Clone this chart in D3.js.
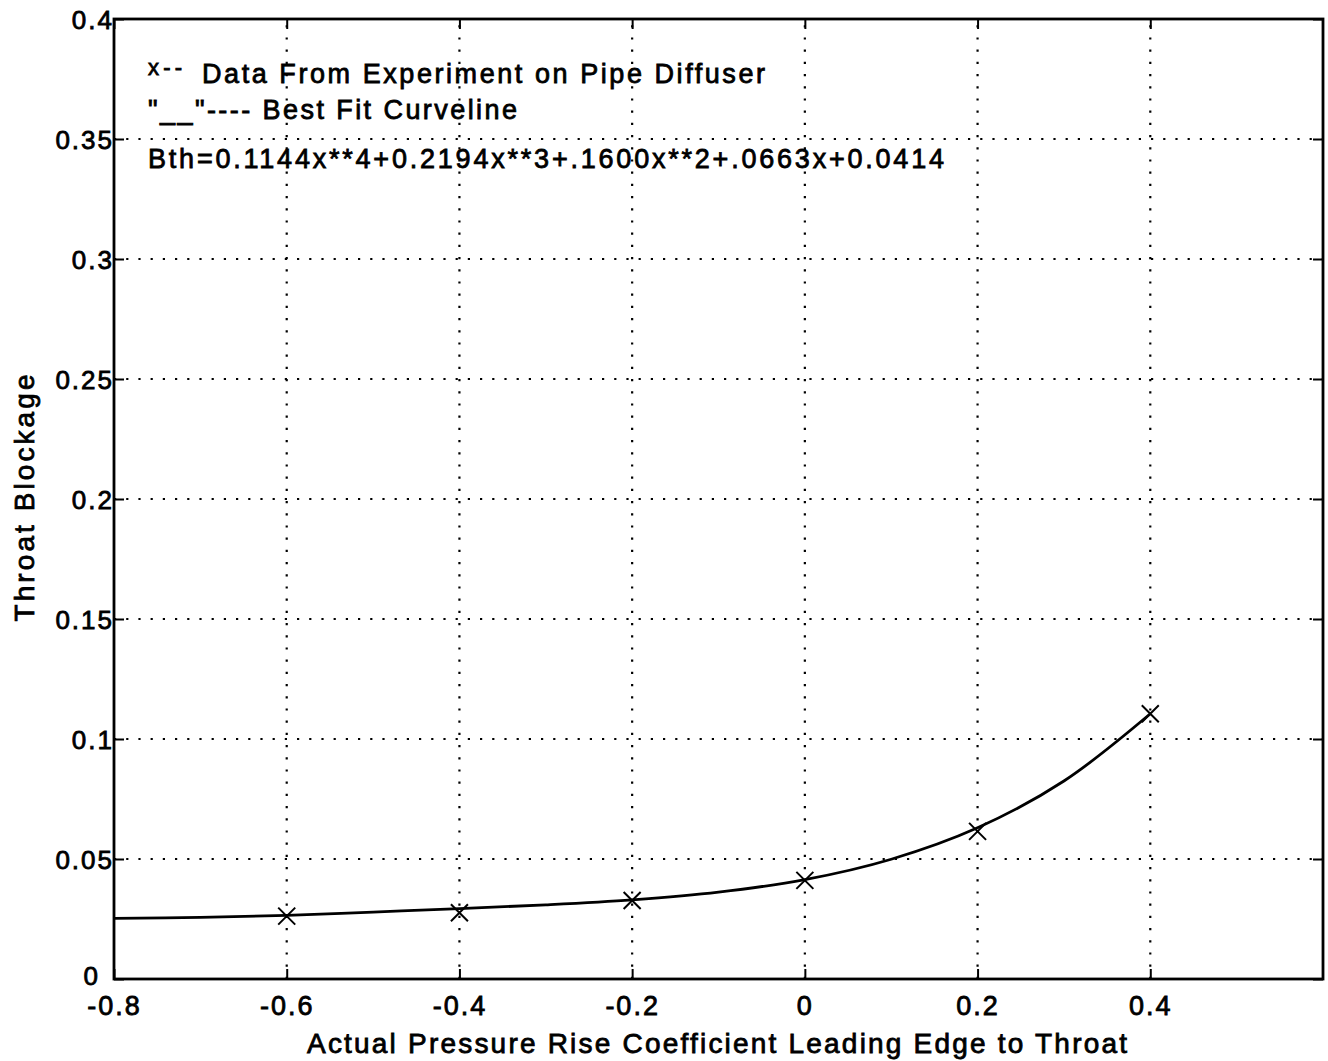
<!DOCTYPE html>
<html>
<head>
<meta charset="utf-8">
<script src="https://cdn.jsdelivr.net/npm/d3@7"></script>
<style>
  html, body { margin: 0; padding: 0; background: #fff; }
  svg { display: block; }
  text { font-family: "Liberation Sans", Arial, Helvetica, sans-serif; fill: #000; }
</style>
</head>
<body>
<svg id="chart" width="1328" height="1061"></svg>
<script>
// ---- data ----
const xTicks = [-0.8, -0.6, -0.4, -0.2, 0, 0.2, 0.4];
const xTickLabels = ["-0.8", "-0.6", "-0.4", "-0.2", "0", "0.2", "0.4"];
const yTicks = [0, 0.05, 0.1, 0.15, 0.2, 0.25, 0.3, 0.35, 0.4];
const yTickLabels = ["0", "0.05", "0.1", "0.15", "0.2", "0.25", "0.3", "0.35", "0.4"];

// experimental points (x markers)
const dataX = [-0.6, -0.4, -0.2, 0.0, 0.2, 0.4];
const dataY = [0.0262, 0.0276, 0.0327, 0.0411, 0.0615, 0.1105];

// best-fit curve
const curveX = [-0.8, -0.7, -0.6, -0.5, -0.4, -0.3, -0.2, -0.1, 0.0, 0.1, 0.2, 0.3, 0.4];
const curveY = [0.0253, 0.0257, 0.0265, 0.0279, 0.0293, 0.0309, 0.0330, 0.0362, 0.0414, 0.0499, 0.0630, 0.0825, 0.1105];

const legendMark = "x--";
const legendLines = [
  "Data From Experiment on Pipe Diffuser",
  "\"__\"---- Best Fit Curveline",
  "Bth=0.1144x**4+0.2194x**3+.1600x**2+.0663x+0.0414"
];
const xTitle = "Actual Pressure Rise Coefficient Leading Edge to Throat";
const yTitle = "Throat Blockage";

// ---- layout ----
const L = 114, R = 1323, T = 19, B = 979;
const svg = d3.select("#chart");
const x = d3.scaleLinear().domain([-0.8, 0.6]).range([L, R]);
const y = d3.scaleLinear().domain([0, 0.4]).range([B, T]);

// grid (dotted)
const grid = svg.append("g").attr("stroke", "#000").attr("stroke-width", 2.2)
  .attr("stroke-dasharray", "2.2,10").attr("fill", "none");
xTicks.filter(v => v > -0.8 && v < 0.6).forEach(v => {
  grid.append("line").attr("x1", x(v)).attr("x2", x(v)).attr("y1", B).attr("y2", T);
});
yTicks.filter(v => v > 0 && v < 0.4).forEach(v => {
  grid.append("line").attr("x1", L).attr("x2", R).attr("y1", y(v)).attr("y2", y(v));
});

// axes with inward ticks
const tickLen = 10;
const bottomAxis = d3.axisBottom(x).tickValues(xTicks).tickSize(-tickLen).tickFormat((d, i) => xTickLabels[i]);
const topAxis = d3.axisTop(x).tickValues(xTicks).tickSize(-tickLen).tickFormat("");
const leftAxis = d3.axisLeft(y).tickValues(yTicks).tickSize(-tickLen).tickFormat((d, i) => yTickLabels[i]);
const rightAxis = d3.axisRight(y).tickValues(yTicks).tickSize(-tickLen).tickFormat("");

function styleAxis(g) {
  g.select(".domain").remove();
  g.selectAll(".tick line").attr("stroke", "#000").attr("stroke-width", 2);
}

const gb = svg.append("g").attr("transform", `translate(0,${B})`).call(bottomAxis).call(styleAxis);
gb.selectAll(".tick text").attr("y", 36).attr("dy", 0)
  .style("font-size", "27px").style("letter-spacing", "2px")
  .attr("stroke", "#000").attr("stroke-width", 0.8);
const gt = svg.append("g").attr("transform", `translate(0,${T})`).call(topAxis).call(styleAxis);
const gl = svg.append("g").attr("transform", `translate(${L},0)`).call(leftAxis).call(styleAxis);
gl.selectAll(".tick text").attr("x", 0).attr("dy", "0.36em")
  .style("font-size", "26px").style("letter-spacing", "2px")
  .attr("stroke", "#000").attr("stroke-width", 0.8);
// the "0" label sits lower-left, just above the "-0.8" label
gl.selectAll(".tick text").filter(d => d === 0).attr("x", -14).attr("dy", "0.2em");
const gr = svg.append("g").attr("transform", `translate(${R},0)`).call(rightAxis).call(styleAxis);
svg.selectAll(".tick text").attr("font-family", null);

// frame
svg.append("rect").attr("x", L).attr("y", T).attr("width", R - L).attr("height", B - T)
  .attr("fill", "none").attr("stroke", "#000").attr("stroke-width", 2.8);

// curve
const curvePts = curveX.map((v, i) => [v, curveY[i]]);
const line = d3.line().x(d => x(d[0])).y(d => y(d[1])).curve(d3.curveCatmullRom.alpha(0.5));
svg.append("path").attr("d", line(curvePts)).attr("fill", "none")
  .attr("stroke", "#000").attr("stroke-width", 2.8);

// x markers
const ms = 8.5;
const marks = svg.append("g").attr("stroke", "#000").attr("stroke-width", 2);
dataX.forEach((v, i) => {
  const cx = x(v), cy = y(dataY[i]);
  marks.append("path").attr("d", `M${cx - ms},${cy - ms}L${cx + ms},${cy + ms}M${cx - ms},${cy + ms}L${cx + ms},${cy - ms}`);
});

// legend / annotation text
const annot = svg.append("g").attr("stroke", "#000").attr("stroke-width", 0.8);
annot.append("text").attr("x", 148).attr("y", 75).style("font-size", "22px")
  .attr("textLength", 34).attr("lengthAdjust", "spacing").text(legendMark);
annot.append("text").attr("x", 202).attr("y", 83).style("font-size", "27px")
  .attr("textLength", 563).attr("lengthAdjust", "spacing").text(legendLines[0]);
annot.append("text").attr("x", 148).attr("y", 119).style("font-size", "27px")
  .attr("textLength", 369).attr("lengthAdjust", "spacing").text(legendLines[1]);
annot.append("text").attr("x", 148).attr("y", 168).style("font-size", "27px")
  .attr("textLength", 796).attr("lengthAdjust", "spacing").text(legendLines[2]);

// axis titles
annot.append("text").attr("x", 717).attr("y", 1053).attr("text-anchor", "middle")
  .style("font-size", "28px").attr("textLength", 820).attr("lengthAdjust", "spacing").text(xTitle);
annot.append("text").attr("transform", "translate(34,498) rotate(-90)").attr("text-anchor", "middle")
  .style("font-size", "28px").attr("textLength", 247).attr("lengthAdjust", "spacing").text(yTitle);
</script>
</body>
</html>
